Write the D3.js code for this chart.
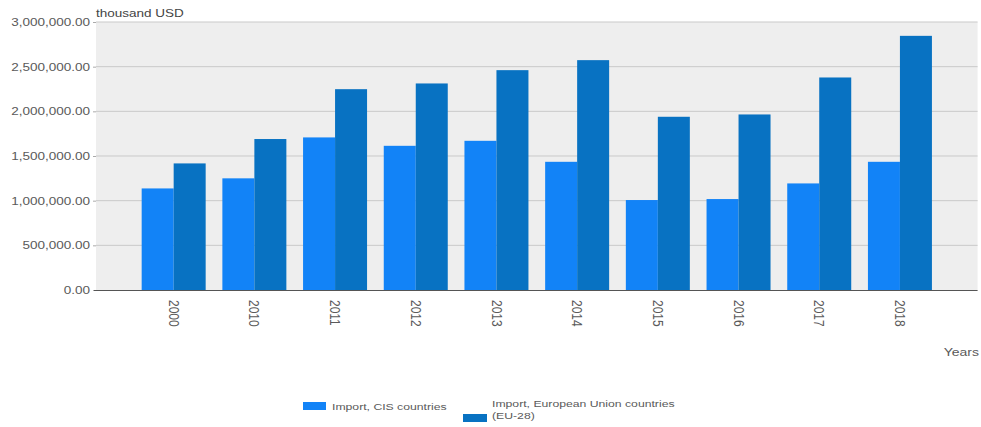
<!DOCTYPE html>
<html><head><meta charset="utf-8">
<script src="https://cdn.jsdelivr.net/npm/d3@7"></script>
<style>html,body{margin:0;padding:0;background:#fff;} svg{display:block;}</style>
</head><body>
<svg id="chart" width="981" height="427"></svg>
<script>
const years = ["2000","2010","2011","2012","2013","2014","2015","2016","2017","2018"];
const cisImport = [1137000,1250000,1708000,1614000,1670000,1435000,1007000,1018000,1193000,1435000];
const euImport  = [1417000,1690000,2248000,2312000,2461000,2573000,1939000,1965000,2379000,2845000];
const seriesNames = ["Import, CIS countries", "Import, European Union countries", "(EU-28)"];
const yTicks = [0,500000,1000000,1500000,2000000,2500000,3000000];
const yUnit = "thousand USD";
const xTitle = "Years";

const colors = ["#1283f7", "#0872c2"];
const textColor = "#5a5a5a";
const SX = 1.3;
const font = "'Liberation Sans', Arial, sans-serif";

const svg = d3.select("#chart");
const L = 96, R = 977.6, T = 22, B = 290;

svg.append("rect").attr("x", L).attr("y", T).attr("width", R - L).attr("height", B - T).attr("fill", "#eeeeee");

const y = d3.scaleLinear().domain([0, 3000000]).range([B, T]);
const x = d3.scaleBand().domain(years).range([L, R]).paddingInner(0.207).paddingOuter(0.566);
const xi = d3.scaleBand().domain([0,1]).range([0, x.bandwidth()]);

// gridlines
svg.append("g").selectAll("line").data(yTicks.filter(d => d > 0)).join("line")
  .attr("x1", L).attr("x2", R).attr("y1", d => y(d)).attr("y2", d => y(d))
  .attr("stroke", "#c9c9c9").attr("stroke-width", 1);

// y axis
const yAxis = svg.append("g").attr("transform", `translate(${L},0)`)
  .call(d3.axisLeft(y).tickValues(yTicks).tickSize(3).tickPadding(3)
    .tickFormat(d3.format(",.2f")));
yAxis.select(".domain").remove();
yAxis.selectAll(".tick line").attr("stroke", "#aaa");
yAxis.selectAll(".tick text")
  .attr("fill", textColor).attr("font-family", font).attr("font-size", 10.4)
  .attr("x", null).attr("dy", "0.35em")
  .attr("transform", `translate(-6,0) scale(${SX},1)`);

// bars
const data = years.map((yr, i) => ({yr, vals: [cisImport[i], euImport[i]]}));
const groups = svg.append("g").selectAll("g").data(data).join("g")
  .attr("transform", d => `translate(${x(d.yr)},0)`);
groups.selectAll("rect").data(d => d.vals.map((v, k) => ({v, k}))).join("rect")
  .attr("x", d => xi(d.k)).attr("width", xi.bandwidth())
  .attr("y", d => y(d.v)).attr("height", d => y(0) - y(d.v))
  .attr("fill", d => colors[d.k]);

// baseline
svg.append("line").attr("x1", L - 2).attr("x2", R).attr("y1", B + 0.5).attr("y2", B + 0.5)
  .attr("stroke", "#555").attr("stroke-width", 1.2);

// x axis labels (rotated)
const xAxis = svg.append("g").attr("transform", `translate(0,${B})`)
  .call(d3.axisBottom(x).tickSize(0).tickPadding(0));
xAxis.select(".domain").remove();
xAxis.selectAll(".tick text")
  .attr("fill", textColor).attr("font-family", font).attr("font-size", 12)
  .attr("y", 0).attr("dy", null)
  .attr("text-anchor", "start").attr("dominant-baseline", "central")
  .attr("transform", "translate(0,10) rotate(90) scale(1,1.2)");

// unit label
svg.append("text").attr("transform", `translate(${L},17) scale(${SX},1)`)
  .attr("font-family", font).attr("font-size", 10.4).attr("fill", "#444").text(yUnit);

// x title
svg.append("text").attr("transform", `translate(979,356) scale(${SX},1)`)
  .attr("text-anchor", "end").attr("font-family", font).attr("font-size", 10.8)
  .attr("fill", textColor).text(xTitle);

// legend
const leg = svg.append("g");
leg.append("rect").attr("x", 303).attr("y", 402).attr("width", 23).attr("height", 8).attr("fill", colors[0]);
leg.append("text").attr("transform", `translate(332,409.5) scale(${SX},1)`)
  .attr("font-family", font).attr("font-size", 9.4).attr("fill", textColor).text(seriesNames[0]);
leg.append("rect").attr("x", 463).attr("y", 414).attr("width", 24).attr("height", 8).attr("fill", colors[1]);
leg.append("text").attr("transform", `translate(492,406.5) scale(${SX},1)`)
  .attr("font-family", font).attr("font-size", 9.4).attr("fill", textColor).text(seriesNames[1]);
leg.append("text").attr("transform", `translate(492,418.5) scale(${SX},1)`)
  .attr("font-family", font).attr("font-size", 9.4).attr("fill", textColor).text(seriesNames[2]);
</script>
</body></html>
